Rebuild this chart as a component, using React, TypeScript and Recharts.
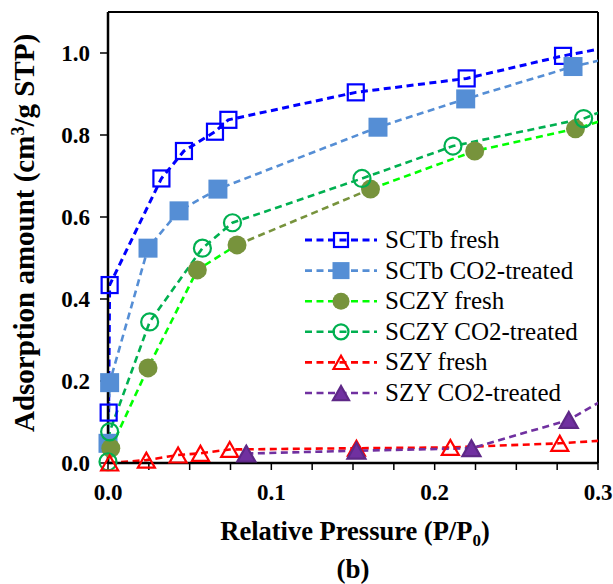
import { LineChart, Line, XAxis, YAxis, Legend, ReferenceLine, Label } from 'recharts';

// relative pressure (P/P0) and adsorbed amount (cm3/g STP) per sample
const sctbFreshP = [0.0004, 0.001, 0.0327, 0.0465, 0.0655, 0.0737, 0.1517, 0.2196, 0.2786, 0.34];
const sctbFreshQ = [0.123, 0.434, 0.694, 0.761, 0.808, 0.837, 0.904, 0.938, 0.993, 1.039];

const sctbCo2P = [0.0, 0.001, 0.0245, 0.0435, 0.0673, 0.1653, 0.219, 0.2847, 0.34];
const sctbCo2Q = [0.048, 0.196, 0.524, 0.615, 0.668, 0.819, 0.888, 0.967, 1.018];

const sczyFreshP = [0.0017, 0.0245, 0.0547, 0.079, 0.1607, 0.2245, 0.2862, 0.33];
const sczyFreshQ = [0.036, 0.232, 0.471, 0.532, 0.668, 0.761, 0.815, 0.869];

const sczyCo2P = [0.0, 0.001, 0.0255, 0.0578, 0.0762, 0.1555, 0.2112, 0.2912, 0.33];
const sczyCo2Q = [0.003, 0.076, 0.344, 0.524, 0.586, 0.694, 0.773, 0.84, 0.902];

const szyFreshP = [0.001, 0.0235, 0.0429, 0.0566, 0.0745, 0.1521, 0.2096, 0.2766, 0.34];
const szyFreshQ = [0.0, 0.007, 0.0195, 0.0236, 0.033, 0.036, 0.038, 0.048, 0.064];

const szyCo2P = [0.0847, 0.1521, 0.2225, 0.2821, 0.33];
const szyCo2Q = [0.023, 0.03, 0.036, 0.105, 0.215];

const xTicks = [0, 0.025, 0.05, 0.075, 0.1, 0.125, 0.15, 0.175, 0.2, 0.225, 0.25, 0.275, 0.3];
const yTicks = [0, 0.2, 0.4, 0.6, 0.8, 1.0];

const X_MAX = 0.3;

const zip = (p: number[], q: number[]) => p.map((x, i) => ({ x, y: q[i] }));

const sctbFresh = zip(sctbFreshP, sctbFreshQ);
const sctbCo2 = zip(sctbCo2P, sctbCo2Q);
const sczyFresh = zip(sczyFreshP, sczyFreshQ);
const sczyCo2 = zip(sczyCo2P, sczyCo2Q);
const szyFresh = zip(szyFreshP, szyFreshQ);
const szyCo2 = zip(szyCo2P, szyCo2Q);
// the 4th->5th segment of SCZY fresh is drawn in the marker colour
const sczyFreshOlive = sczyFresh.slice(3, 5);

const FONT = '"Liberation Serif", "Times New Roman", Times, serif';
const DASH = '7 4.5';

type Shape = 'square' | 'circle' | 'triangle';
type MarkerProps = { shape: Shape; cx: number; cy: number; size: number; stroke: string; fill: string; sw?: number };

const Marker = ({ shape, cx, cy, size, stroke, fill, sw = 2.2 }: MarkerProps) => {
  if (cx == null || cy == null) return null;
  const h = size / 2;
  if (shape === 'square')
    return <rect x={cx - h} y={cy - h} width={size} height={size} fill={fill} stroke={stroke} strokeWidth={sw} />;
  if (shape === 'circle') return <circle cx={cx} cy={cy} r={h} fill={fill} stroke={stroke} strokeWidth={sw} />;
  const th = size * 0.88;
  return (
    <polygon
      points={`${cx},${cy - th / 2} ${cx - h},${cy + th / 2} ${cx + h},${cy + th / 2}`}
      fill={fill}
      stroke={stroke}
      strokeWidth={sw}
    />
  );
};

const series = [
  { name: 'SCTb fresh', data: sctbFresh, line: '#0000FF', width: 3, shape: 'square' as Shape, size: 16, stroke: '#0000FF', fill: 'none' },
  { name: 'SCTb CO2-treated', data: sctbCo2, line: '#558ED5', width: 2.6, shape: 'square' as Shape, size: 19, stroke: 'none', fill: '#558ED5' },
  { name: 'SCZY fresh', data: sczyFresh, line: '#00FF00', width: 2.6, shape: 'circle' as Shape, size: 19, stroke: 'none', fill: '#77933C' },
  { name: 'SCZY CO2-treated', data: sczyCo2, line: '#00B050', width: 2.6, shape: 'circle' as Shape, size: 17, stroke: '#00B050', fill: 'none' },
  { name: 'SZY fresh', data: szyFresh, line: '#FF0000', width: 2.6, shape: 'triangle' as Shape, size: 17, stroke: '#FF0000', fill: 'none' },
  { name: 'SZY CO2-treated', data: szyCo2, line: '#7030A0', width: 2.6, shape: 'triangle' as Shape, size: 18, stroke: '#5E2887', fill: '#7030A0' },
];
type Series = (typeof series)[number];

const dotFor = (s: Series) => (p: any) =>
  <Marker key={`${s.name}-${p.index}`} shape={s.shape} cx={p.cx} cy={p.cy} size={s.size} stroke={s.stroke} fill={s.fill} />;

const inRange = (d: { x: number }[]) => d.filter((p) => p.x <= X_MAX);

// dashed curve on the clipped axis, markers on an unclipped twin axis
const curve = (s: Series, data = s.data, stroke = s.line, width = s.width, dash = DASH) => (
  <Line
    key={`c-${s.name}-${stroke}`}
    data={data}
    dataKey="y"
    name={s.name}
    stroke={stroke}
    strokeWidth={width}
    strokeDasharray={dash}
    dot={false}
    activeDot={false}
    legendType="none"
    isAnimationActive={false}
  />
);
const marks = (s: Series, data = s.data) => (
  <Line
    key={`m-${s.name}-${data.length}`}
    xAxisId="m"
    data={inRange(data)}
    dataKey="y"
    stroke="none"
    dot={dotFor(s)}
    activeDot={false}
    legendType="none"
    isAnimationActive={false}
  />
);

const renderLegend = () => (
  <svg width={320} height={190}>
    {series.map((s, i) => {
      const y = 15 + i * 30.6;
      return (
        <g key={s.name}>
          <line x1={15} x2={87} y1={y} y2={y} stroke={s.line} strokeWidth={s.width} strokeDasharray={DASH} />
          <Marker shape={s.shape} cx={51} cy={y} size={s.size - 2} stroke={s.stroke} fill={s.fill} />
          <text x={95} y={y + 8} fontFamily={FONT} fontSize={25} fill="#000">
            {s.name}
          </text>
        </g>
      );
    })}
  </svg>
);

const xFmt = (v: number) => (Math.abs(v * 10 - Math.round(v * 10)) < 1e-6 ? v.toFixed(1) : '');
const tickStyle = { fontSize: 23, fontWeight: 'bold', fill: '#000', fontFamily: FONT };

export default function App() {
  const [sctbF, sctbC, sczyF, sczyC, szyF, szyC] = series;
  return (
    <div style={{ position: 'absolute', left: 0, top: 0, width: 613, height: 584, background: '#fff', fontFamily: FONT }}>
      <LineChart width={613} height={584} margin={{ top: 12, right: 15, left: 0, bottom: 0 }}>
        <XAxis
          dataKey="x"
          type="number"
          domain={[0, X_MAX]}
          ticks={xTicks}
          interval={0}
          allowDataOverflow
          tickFormatter={xFmt}
          height={121}
          tickSize={7}
          tickMargin={14}
          axisLine={{ stroke: '#000', strokeWidth: 2.5 }}
          tickLine={{ stroke: '#000', strokeWidth: 1.5 }}
          tick={tickStyle}
        >
          <Label
            content={() => (
              <g fontFamily={FONT} fontWeight="bold" fill="#000">
                <text x={355} y={540} textAnchor="middle" fontSize={26.5}>
                  Relative Pressure (P/P<tspan dy={6} fontSize={17}>0</tspan>
                  <tspan dy={-6}>)</tspan>
                </text>
                <text x={353} y={578} textAnchor="middle" fontSize={27}>
                  (b)
                </text>
              </g>
            )}
          />
        </XAxis>
        <XAxis xAxisId="m" dataKey="x" type="number" domain={[0, X_MAX]} hide />
        <YAxis
          type="number"
          domain={[0, 1.1]}
          ticks={yTicks}
          interval={0}
          tickFormatter={(v: number) => v.toFixed(1)}
          width={108}
          tickSize={8}
          tickMargin={10}
          axisLine={{ stroke: '#000', strokeWidth: 2.5 }}
          tickLine={{ stroke: '#000', strokeWidth: 1.5 }}
          tick={tickStyle}
        >
          <Label
            content={() => (
              <text
                transform="rotate(-90)"
                x={-233}
                y={34}
                textAnchor="middle"
                fontFamily={FONT}
                fontWeight="bold"
                fontSize={29}
                fill="#000"
              >
                Adsorption amount (cm<tspan dy={-10} fontSize={18}>3</tspan>
                <tspan dy={10}>/g STP)</tspan>
              </text>
            )}
          />
        </YAxis>
        <ReferenceLine x={X_MAX} stroke="#000" strokeWidth={2} />
        <ReferenceLine y={1.1} stroke="#000" strokeWidth={2} />

        {curve(sctbF)}
        {marks(sctbF)}
        {curve(sctbC)}
        {marks(sctbC)}
        {curve(sczyF)}
        {curve(sczyF, sczyFreshOlive, '#fff', 4, 'none')}
        {curve(sczyF, sczyFreshOlive, '#77933C', 2.6)}
        {marks(sczyF)}
        {curve(sczyC)}
        {marks(sczyC)}
        {curve(szyF)}
        {marks(szyF)}
        {curve(szyC)}
        {marks(szyC)}

        <Legend
          layout="vertical"
          align="center"
          verticalAlign="middle"
          content={renderLegend}
          wrapperStyle={{ position: 'absolute', left: 290, top: 225, width: 320, height: 190 }}
        />
      </LineChart>
    </div>
  );
}
